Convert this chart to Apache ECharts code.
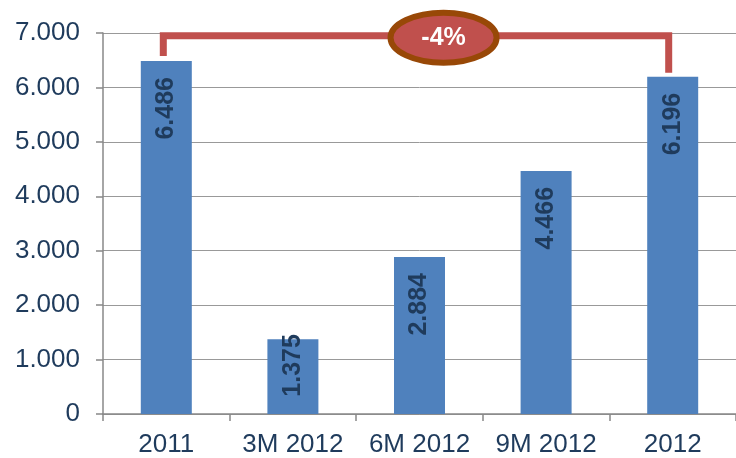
<!DOCTYPE html>
<html><head><meta charset="utf-8">
<script src="https://cdn.jsdelivr.net/npm/echarts@6/dist/echarts.min.js"></script>
<style>html,body{margin:0;padding:0;background:#fff}#c{width:736px;height:458px}</style>
</head><body><div id="c"></div>
<script>
const categories = ['2011', '3M 2012', '6M 2012', '9M 2012', '2012'];
const values = [6486, 1375, 2884, 4466, 6196];
const yTicks = [0, 1000, 2000, 3000, 4000, 5000, 6000, 7000];
const changeLabel = '-4%';

function fmt(v) {
  return String(v).replace(/\B(?=(\d{3})+(?!\d))/g, '.');
}
const chart = echarts.init(document.getElementById('c'));
const txt = '#1F3B5C';
const ff = '"Liberation Sans", Arial, sans-serif';
const barData = values.map((v, i) => i === 1 ? { value: v, label: { distance: -5 } } : v);
chart.setOption({
  animation: false,
  grid: { left: 103, right: 0, top: 33, bottom: 43, containLabel: false },
  xAxis: {
    type: 'category', data: categories,
    axisLine: { lineStyle: { color: '#888', width: 1.5 } },
    axisTick: { show: true, length: 7, lineStyle: { color: '#888', width: 1.5 } },
    axisLabel: { color: txt, fontSize: 26, fontFamily: ff, margin: 18, interval: 0, hideOverlap: false }
  },
  yAxis: {
    type: 'value', min: 0, max: 7000, interval: 1000,
    axisLine: { show: true, lineStyle: { color: '#888', width: 1.5 } },
    axisTick: { show: true, length: 7, lineStyle: { color: '#888', width: 1.5 } },
    splitLine: { lineStyle: { color: '#999', width: 1 } },
    axisLabel: { color: txt, fontSize: 26, fontFamily: ff, margin: 23,
      formatter: v => fmt(v) }
  },
  series: [{
    type: 'bar', data: barData, barWidth: 51,
    itemStyle: { color: '#4F81BD' },
    label: {
      show: true, position: 'insideTop', distance: 16, rotate: 90,
      align: 'right', verticalAlign: 'middle',
      color: '#1F3B5C', fontSize: 25, fontWeight: 'bold', fontFamily: ff,
      formatter: p => fmt(p.value)
    }
  }]
});

function drawBracket() {
  const top = 6950;
  const p0 = chart.convertToPixel({ seriesIndex: 0 }, [0, values[0]]);
  const p4 = chart.convertToPixel({ seriesIndex: 0 }, [4, values[4]]);
  const pc = chart.convertToPixel({ seriesIndex: 0 }, [2, top]);
  const pc3 = chart.convertToPixel({ seriesIndex: 0 }, [3, top]);
  const yTop = chart.convertToPixel({ yAxisIndex: 0 }, top);
  const xl = p0[0] - 3, xr = p4[0] - 4;
  const ex = pc[0] + (pc3[0] - pc[0]) * 0.19;
  const ey = yTop + 2;
  chart.setOption({
    graphic: [
      { type: 'polyline', z: 10, shape: { points: [[xl, p0[1] - 5], [xl, yTop], [xr, yTop], [xr, p4[1] - 4]] },
        style: { stroke: '#C0504D', lineWidth: 7, fill: null } },
      { type: 'ellipse', z: 11, shape: { cx: ex, cy: ey, rx: 53, ry: 25 },
        style: { fill: '#C0504D', stroke: '#984807', lineWidth: 6 } },
      { type: 'text', z: 12, x: ex, y: ey, style: { text: changeLabel, fill: '#fff', fontSize: 25, fontWeight: 'bold',
        fontFamily: ff, align: 'center', verticalAlign: 'middle' } }
    ]
  });
}
drawBracket();
</script></body></html>
